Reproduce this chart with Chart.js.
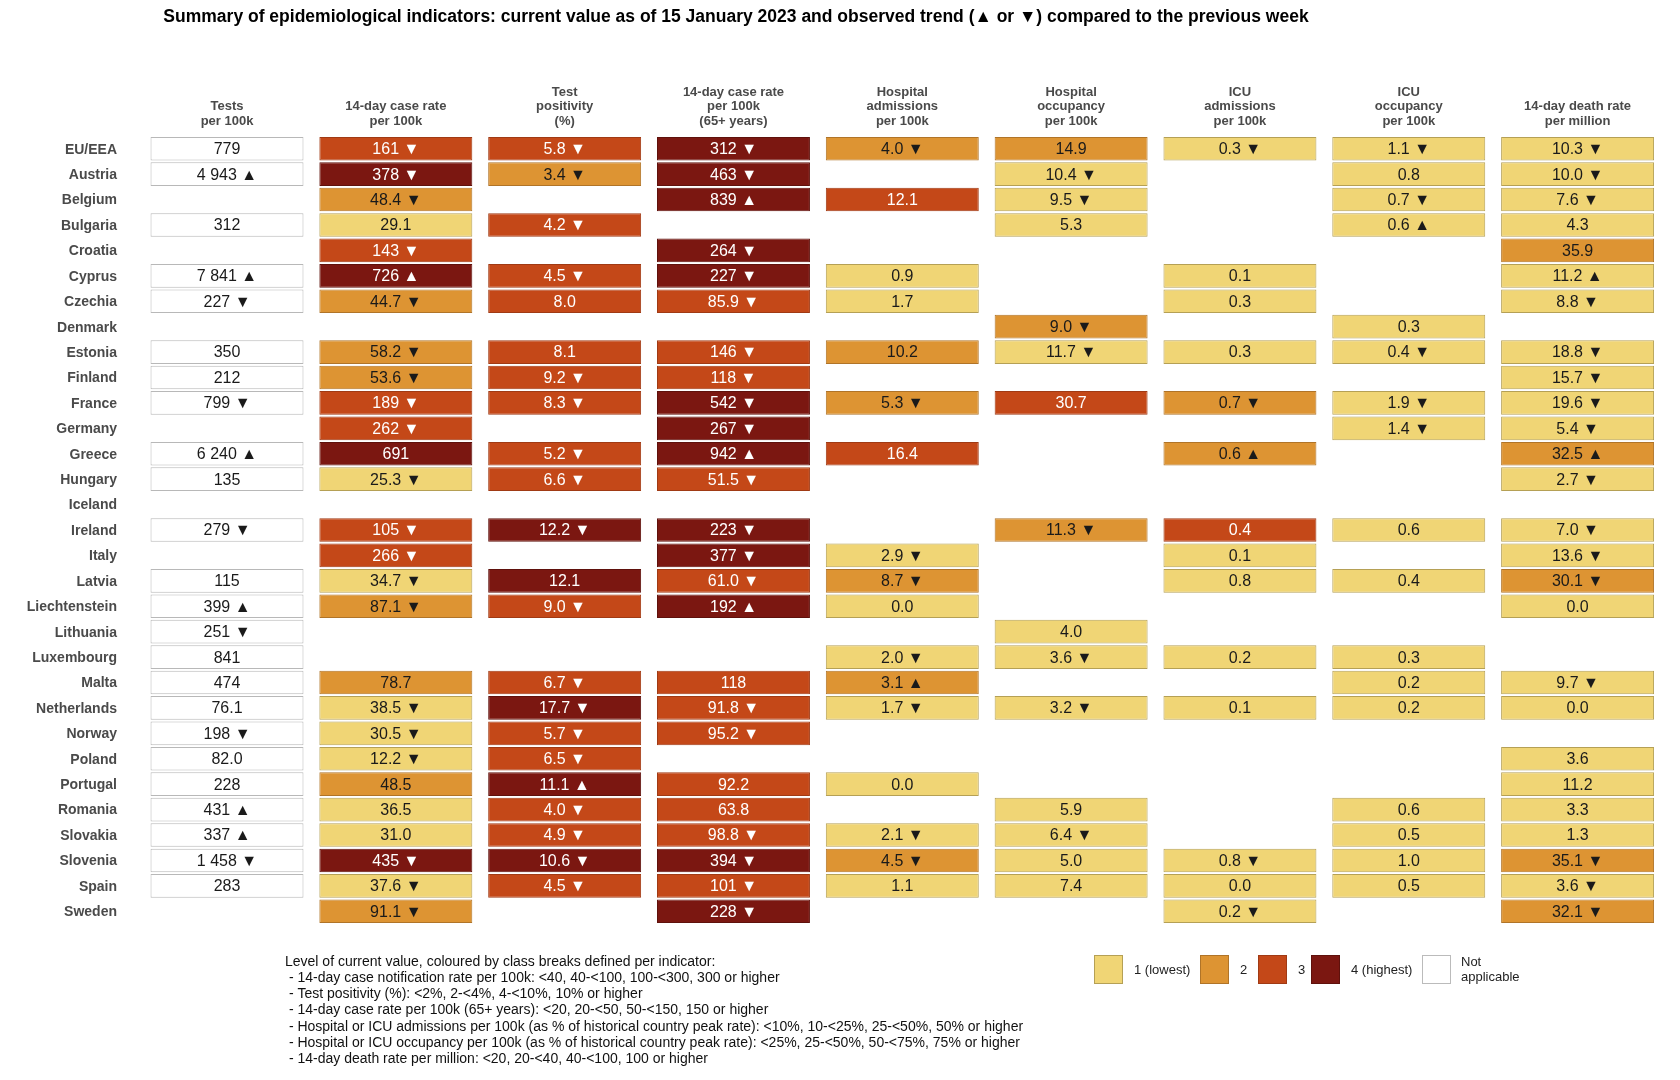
<!DOCTYPE html>
<html><head><meta charset="utf-8">
<script src="https://cdn.jsdelivr.net/npm/chart.js@4"></script>
<style>html,body{margin:0;padding:0;background:#fff}canvas{display:block}</style>
</head><body>
<canvas id="c" width="1680" height="1080"></canvas>
<script>
const countries=["EU/EEA","Austria","Belgium","Bulgaria","Croatia","Cyprus","Czechia","Denmark","Estonia","Finland","France","Germany","Greece","Hungary","Iceland","Ireland","Italy","Latvia","Liechtenstein","Lithuania","Luxembourg","Malta","Netherlands","Norway","Poland","Portugal","Romania","Slovakia","Slovenia","Spain","Sweden"];
const headers=[["Tests","per 100k"],["14-day case rate","per 100k"],["Test","positivity","(%)"],["14-day case rate","per 100k","(65+ years)"],["Hospital","admissions","per 100k"],["Hospital","occupancy","per 100k"],["ICU","admissions","per 100k"],["ICU","occupancy","per 100k"],["14-day death rate","per million"]];
const N=null;
// values per indicator (null = not reported)
const testsVal=[779,4943,N,312,N,7841,227,N,350,212,799,N,6240,135,N,279,N,115,399,251,841,474,76.1,198,82.0,228,431,337,1458,283,N];
const testsTr=["","u","","","","u","d","","","","d","","u","","","d","","","u","d","","","","d","","","u","u","d","",""];
const caseVal=[161,378,48.4,29.1,143,726,44.7,N,58.2,53.6,189,262,691,25.3,N,105,266,34.7,87.1,N,N,78.7,38.5,30.5,12.2,48.5,36.5,31.0,435,37.6,91.1];
const caseTr=["d","d","d","","d","u","d","","d","d","d","d","","d","","d","d","d","d","","","","d","d","d","","","","d","d","d"];
const caseLv=[3,4,2,1,3,4,2,0,2,2,3,3,4,1,0,3,3,1,2,0,0,2,1,1,1,2,1,1,4,1,2];
const posVal=[5.8,3.4,N,4.2,N,4.5,8.0,N,8.1,9.2,8.3,N,5.2,6.6,N,12.2,N,12.1,9.0,N,N,6.7,17.7,5.7,6.5,11.1,4.0,4.9,10.6,4.5,N];
const posTr=["d","d","","d","","d","","","","d","d","","d","d","","d","","","d","","","d","d","d","d","u","d","d","d","d",""];
const posLv=[3,2,0,3,0,3,3,0,3,3,3,0,3,3,0,4,0,4,3,0,0,3,4,3,3,4,3,3,4,3,0];
const c65Val=[312,463,839,N,264,227,85.9,N,146,118,542,267,942,51.5,N,223,377,61.0,192,N,N,118,91.8,95.2,N,92.2,63.8,98.8,394,101,228];
const c65Tr=["d","d","u","","d","d","d","","d","d","d","d","u","d","","d","d","d","u","","","","d","d","","","","d","d","d","d"];
const c65Lv=[4,4,4,0,4,4,3,0,3,3,4,4,4,3,0,4,4,3,4,0,0,3,3,3,0,3,3,3,4,3,4];
const hadmVal=[4.0,N,12.1,N,N,0.9,1.7,N,10.2,N,5.3,N,16.4,N,N,N,2.9,8.7,0.0,N,2.0,3.1,1.7,N,N,0.0,N,2.1,4.5,1.1,N];
const hadmTr=["d","","","","","","","","","","d","","","","","","d","d","","","d","u","d","","","","","d","d","",""];
const hadmLv=[2,0,3,0,0,1,1,0,2,0,2,0,3,0,0,0,1,2,1,0,1,2,1,0,0,1,0,1,2,1,0];
const hoccVal=[14.9,10.4,9.5,5.3,N,N,N,9.0,11.7,N,30.7,N,N,N,N,11.3,N,N,N,4.0,3.6,N,3.2,N,N,N,5.9,6.4,5.0,7.4,N];
const hoccTr=["","d","d","","","","","d","d","","","","","","","d","","","","","d","","d","","","","","d","","",""];
const hoccLv=[2,1,1,1,0,0,0,2,1,0,3,0,0,0,0,2,0,0,0,1,1,0,1,0,0,0,1,1,1,1,0];
const iadmVal=[0.3,N,N,N,N,0.1,0.3,N,0.3,N,0.7,N,0.6,N,N,0.4,0.1,0.8,N,N,0.2,N,0.1,N,N,N,N,N,0.8,0.0,0.2];
const iadmTr=["d","","","","","","","","","","d","","u","","","","","","","","","","","","","","","","d","","d"];
const iadmLv=[1,0,0,0,0,1,1,0,1,0,2,0,2,0,0,3,1,1,0,0,1,0,1,0,0,0,0,0,1,1,1];
const ioccVal=[1.1,0.8,0.7,0.6,N,N,N,0.3,0.4,N,1.9,1.4,N,N,N,0.6,N,0.4,N,N,0.3,0.2,0.2,N,N,N,0.6,0.5,1.0,0.5,N];
const ioccTr=["d","","d","u","","","","","d","","d","d","","","","","","","","","","","","","","","","","","",""];
const ioccLv=[1,1,1,1,0,0,0,1,1,0,1,1,0,0,0,1,0,1,0,0,1,1,1,0,0,0,1,1,1,1,0];
const deathVal=[10.3,10.0,7.6,4.3,35.9,11.2,8.8,N,18.8,15.7,19.6,5.4,32.5,2.7,N,7.0,13.6,30.1,0.0,N,N,9.7,0.0,N,3.6,11.2,3.3,1.3,35.1,3.6,32.1];
const deathTr=["d","d","d","","","u","d","","d","d","d","d","u","d","","d","d","d","","","","d","","","","","","","d","d","d"];
const deathLv=[1,1,1,1,2,1,1,0,1,1,1,1,2,1,0,1,1,2,1,0,0,1,1,0,1,1,1,1,2,1,2];
const testsLv=testsVal.map(v=>v===null?0:-1);

const vals=[testsVal,caseVal,posVal,c65Val,hadmVal,hoccVal,iadmVal,ioccVal,deathVal];
const trends=[testsTr,caseTr,posTr,c65Tr,hadmTr,hoccTr,iadmTr,ioccTr,deathTr];
const levels=[testsLv,caseLv,posLv,c65Lv,hadmLv,hoccLv,iadmLv,ioccLv,deathLv];
const levelColors={"-1":"#ffffff",1:"#F0D575",2:"#DD9433",3:"#C44818",4:"#7B1711"};
const borderCols={"-1":"#b8b8b8",1:"#b5a055",2:"#b07428",3:"#a03a14",4:"#5f110c"};

function fmt(v){
  if(v>=100){const s=Math.round(v).toString();return s.replace(/\B(?=(\d{3})+(?!\d))/g," ");}
  return v.toFixed(1);
}
const datasets=vals.map((arr,ci)=>({
  data:arr.map(v=>v===null?null:[ci+0.047,ci+0.953]),
  backgroundColor:levels[ci].map(l=>levelColors[l]||"#fff"),
  borderColor:levels[ci].map(l=>borderCols[l]||"#bbb"),
  borderWidth:1,borderSkipped:false,grouped:false,
  barPercentage:0.93,categoryPercentage:1
}));
const FONT='"Liberation Sans", Arial, sans-serif';
const textPlugin={id:'txt',afterDatasetsDraw(chart){
  const ctx=chart.ctx;const xs=chart.scales.x,ys=chart.scales.y;
  ctx.save();
  ctx.textAlign='center';ctx.textBaseline='middle';ctx.font='16px '+FONT;
  vals.forEach((arr,ci)=>{
    const meta=chart.getDatasetMeta(ci);
    arr.forEach((v,ri)=>{
      if(v===null)return;
      const el=meta.data[ri];const cx=(el.x+el.base)/2;
      const lv=levels[ci][ri];
      ctx.fillStyle=(lv>=3)?'#ffffff':'#1a1a1a';
      const t=trends[ci][ri];
      let s=fmt(v);
      if(t)s+=' '+(t==='u'?'▲':'▼');
      ctx.fillText(s,cx,el.y+1);
    });
  });
  // country labels
  ctx.textAlign='right';ctx.font='bold 14px '+FONT;ctx.fillStyle='#4a4a4a';
  countries.forEach((c,i)=>ctx.fillText(c,117,ys.getPixelForValue(i)+1));
  // headers
  ctx.textAlign='center';ctx.font='bold 13px '+FONT;
  headers.forEach((h,ci)=>{
    const cx=xs.getPixelForValue(ci+0.5);
    const n=h.length;
    h.forEach((line,li)=>ctx.fillText(line,cx,121-(n-1-li)*14.5));
  });
  // title
  ctx.fillStyle='#000';ctx.font='bold 17.5px '+FONT;
  ctx.fillText('Summary of epidemiological indicators: current value as of 15 January 2023 and observed trend (▲ or ▼) compared to the previous week',736,17);
  // footnote
  ctx.textAlign='left';ctx.font='14px '+FONT;ctx.fillStyle='#111';
  const notes=["Level of current value, coloured by class breaks defined per indicator:",
  " - 14-day case notification rate per 100k: <40, 40-<100, 100-<300, 300 or higher",
  " - Test positivity (%): <2%, 2-<4%, 4-<10%, 10% or higher",
  " - 14-day case rate per 100k (65+ years): <20, 20-<50, 50-<150, 150 or higher",
  " - Hospital or ICU admissions per 100k (as % of historical country peak rate): <10%, 10-<25%, 25-<50%, 50% or higher",
  " - Hospital or ICU occupancy per 100k (as % of historical country peak rate): <25%, 25-<50%, 50-<75%, 75% or higher",
  " - 14-day death rate per million: <20, 20-<40, 40-<100, 100 or higher"];
  notes.forEach((n,i)=>ctx.fillText(n,285,962+i*16.2));
  // legend
  const leg=[[1094,1,"1 (lowest)"],[1200,2,"2"],[1258,3,"3"],[1311,4,"4 (highest)"],[1422,-1,null]];
  ctx.font='13px '+FONT;
  leg.forEach(([x,l,lab])=>{
    ctx.fillStyle=levelColors[l];ctx.fillRect(x,955,29,29);
    ctx.strokeStyle=l===-1?'#bbb':borderCols[l];ctx.lineWidth=1;ctx.strokeRect(x+0.5,955.5,28,28);
    ctx.fillStyle='#222';
    if(lab)ctx.fillText(lab,x+40,970);
  });
  ctx.fillText('Not',1461,962);ctx.fillText('applicable',1461,977);
  ctx.restore();
}};
new Chart(document.getElementById('c'),{
  type:'bar',
  data:{labels:countries,datasets},
  plugins:[textPlugin],
  options:{
    indexAxis:'y',responsive:false,animation:false,
    layout:{padding:{left:142.6,right:18,top:136,bottom:156}},
    plugins:{legend:{display:false},tooltip:{enabled:false},title:{display:false}},
    scales:{
      x:{type:'linear',min:0,max:9,display:false},
      y:{type:'category',display:false,offset:true}
    }
  }
});
</script>
</body></html>
